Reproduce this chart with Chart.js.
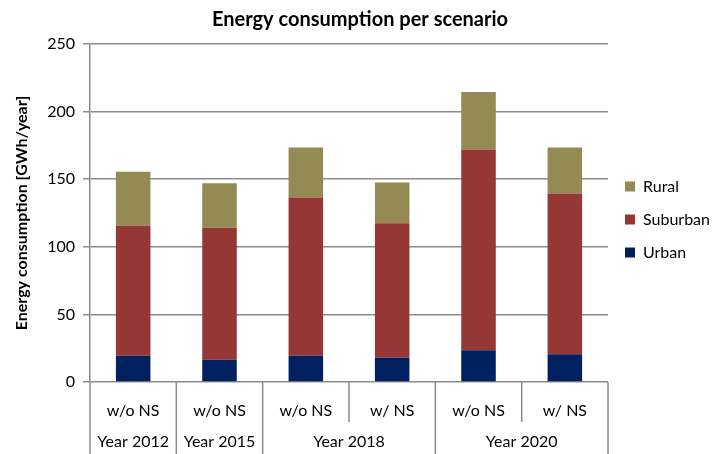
<!DOCTYPE html>
<html>
<head>
<meta charset="utf-8">
<script src="https://cdn.jsdelivr.net/npm/chart.js@4"></script>
<style>
html, body { margin: 0; padding: 0; background: #fff; }
#wrap { width: 728px; height: 454px; }
</style>
</head>
<body>
<div id="wrap"><canvas id="chart"></canvas></div>
<script>
// Data
const scenarios = ['w/o NS', 'w/o NS', 'w/o NS', 'w/ NS', 'w/o NS', 'w/ NS'];
// [label, first index, last index]
const yearGroups = [['Year 2012', 0, 0], ['Year 2015', 1, 1], ['Year 2018', 2, 3], ['Year 2020', 4, 5]];
const urban = [19.5, 16.5, 19.5, 18, 23.5, 20.5];
const suburban = [96, 97.5, 117, 99.5, 148.5, 119];
const rural = [40, 33, 37, 30, 42.5, 34];
const yMax = 250;
const yStep = 50;

const FONT = 'Lato';
const GRID = '#8c8c8c';

// draws the second label row (years) and the divider lines under the axis
const groupAxis = {
    id: 'groupAxis',
    afterDraw(chart) {
        const x = chart.scales.x;
        const ctx = chart.ctx;
        const top = chart.chartArea.bottom;
        const half = (x.getPixelForValue(1) - x.getPixelForValue(0)) / 2;
        ctx.save();
        ctx.strokeStyle = GRID;
        ctx.lineWidth = 1.5;
        for (let k = 0; k <= scenarios.length; k++) {
            const px = x.getPixelForValue(0) + (2 * k - 1) * half;
            const isLong = k === scenarios.length || yearGroups.some(g => g[1] === k);
            ctx.beginPath();
            ctx.moveTo(px, top);
            ctx.lineTo(px, isLong ? chart.height : top + 40);
            ctx.stroke();
        }
        ctx.fillStyle = '#000';
        ctx.font = '16px ' + FONT;
        ctx.textAlign = 'center';
        ctx.textBaseline = 'middle';
        yearGroups.forEach(g => {
            const cx = (x.getPixelForValue(g[1]) + x.getPixelForValue(g[2])) / 2;
            ctx.fillText(g[0], cx, top + 60);
        });
        ctx.restore();
    }
};

const ctx = document.getElementById('chart').getContext('2d');
new Chart(ctx, {
    type: 'bar',
    data: {
        labels: scenarios,
        datasets: [
            { label: 'Urban', data: urban, backgroundColor: '#002060' },
            { label: 'Suburban', data: suburban, backgroundColor: '#953735' },
            { label: 'Rural', data: rural, backgroundColor: '#948a54' }
        ]
    },
    options: {
        responsive: true,
        maintainAspectRatio: false,
        animation: false,
        layout: { padding: { right: 8, bottom: 15 } },
        datasets: {
            bar: {
                categoryPercentage: 1,
                barPercentage: 0.4,
                borderWidth: 0
            }
        },
        plugins: {
            title: {
                display: true,
                text: 'Energy consumption per scenario',
                color: '#000',
                font: { family: FONT, size: 20, weight: 'bold' },
                padding: { top: 8, bottom: 12 }
            },
            legend: {
                position: 'right',
                reverse: true,
                labels: {
                    boxWidth: 10,
                    boxHeight: 10,
                    padding: 17,
                    color: '#000',
                    font: { family: FONT, size: 16 }
                }
            },
            tooltip: { enabled: false }
        },
        scales: {
            x: {
                stacked: true,
                grid: { display: false },
                border: { display: false },
                ticks: {
                    color: '#000',
                    padding: 11,
                    font: { family: FONT, size: 16 }
                },
                afterFit: scale => { scale.height = 57; }
            },
            y: {
                stacked: true,
                min: 0,
                max: yMax,
                ticks: {
                    stepSize: yStep,
                    color: '#000',
                    padding: 8,
                    font: { family: FONT, size: 16 }
                },
                grid: { color: GRID, lineWidth: 1.5, tickLength: 7 },
                border: { color: GRID, width: 1.5 },
                title: {
                    display: true,
                    text: 'Energy consumption [GWh/year]',
                    color: '#000',
                    font: { family: FONT, size: 16, weight: 'bold' },
                    padding: { top: 12, bottom: 0 }
                },
                afterFit: scale => { scale.width = 90; }
            }
        }
    },
    plugins: [groupAxis]
});
</script>
</body>
</html>
